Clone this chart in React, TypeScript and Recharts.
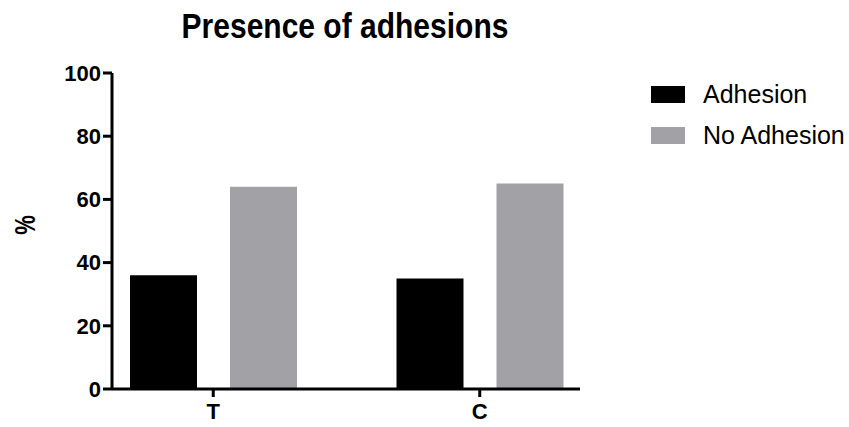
import React from "react";
import { BarChart, Bar, XAxis, YAxis } from "recharts";

const categories = ["T", "C"];
const adhesion = [36, 35];
const noAdhesion = [64, 65];
const yTicks = [0, 20, 40, 60, 80, 100];
const seriesNames = ["Adhesion", "No Adhesion"];
const colors = ["#000000", "#a2a1a6"];

const data = categories.map((c, i) => ({
  name: c,
  adhesion: adhesion[i],
  noAdhesion: noAdhesion[i],
}));

const FONT = "'Liberation Sans', Arial, sans-serif";

export default function App() {
  return (
    <div style={{ position: "absolute", left: 0, top: 0, width: 849, height: 427, background: "#fff" }}>
      <div
        style={{
          position: "absolute",
          left: 0,
          width: 690,
          top: 11,
          textAlign: "center",
          fontFamily: FONT,
          fontWeight: "bold",
          fontSize: 30,
          lineHeight: "30px",
          color: "#000",
          transform: "scale(1, 1.15)",
        }}
      >
        Presence of adhesions
      </div>
      <div
        style={{
          position: "absolute",
          left: 11,
          top: 210,
          width: 30,
          height: 30,
          transform: "rotate(-90deg) scale(1, 1.3)",
          fontFamily: FONT,
          fontWeight: "bold",
          fontSize: 22,
          textAlign: "center",
          lineHeight: "30px",
        }}
      >
        %
      </div>
      <div style={{ position: "absolute", left: 651, top: 74, fontFamily: FONT }}>
        {seriesNames.map((n, i) => (
          <div key={n} style={{ display: "flex", alignItems: "center", height: 41 }}>
            <div style={{ width: 34, height: 17, background: colors[i], marginRight: 18 }} />
            <span style={{ fontSize: 25, color: "#000" }}>{n}</span>
          </div>
        ))}
      </div>
      <BarChart
        width={849}
        height={427}
        data={data}
        margin={{ top: 73, right: 269, left: 52, bottom: 0 }}
        barSize={67}
        barGap={33}
      >
        <XAxis
          dataKey="name"
          height={38}
          padding={{ left: -32, right: -33 }}
          axisLine={{ stroke: "#000", strokeWidth: 3 }}
          tickLine={{ stroke: "#000", strokeWidth: 3 }}
          tickSize={8}
          tickMargin={6}
          tick={{ fill: "#000", fontSize: 22, fontWeight: "bold", fontFamily: FONT }}
        />
        <YAxis
          width={60}
          domain={[0, 100]}
          ticks={yTicks}
          interval={0}
          axisLine={{ stroke: "#000", strokeWidth: 3 }}
          tickLine={{ stroke: "#000", strokeWidth: 3 }}
          tickSize={9}
          tickMargin={2}
          tick={{ fill: "#000", fontSize: 22, fontWeight: "bold", fontFamily: FONT }}
        />
        <Bar dataKey="adhesion" name={seriesNames[0]} fill={colors[0]} isAnimationActive={false} />
        <Bar dataKey="noAdhesion" name={seriesNames[1]} fill={colors[1]} isAnimationActive={false} />
      </BarChart>
    </div>
  );
}
